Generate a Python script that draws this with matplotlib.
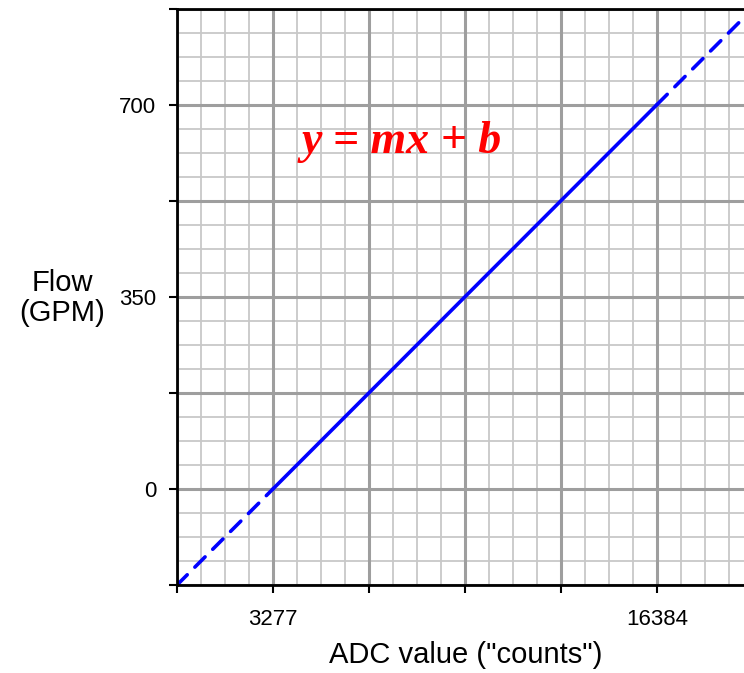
import matplotlib.pyplot as plt
import numpy as np

# ADC counts vs flow: line passes through (3277, 0) and (16384, 700)
x_solid = [3277, 16384]
y_solid = [0, 700]
x_tick_labels = {3277: '3277', 16384: '16384'}
y_tick_labels = {0: '0', 350: '350', 700: '700'}

x_min, x_max = 0, 19354
y_min, y_max = -175, 875

m = (y_solid[1] - y_solid[0]) / (x_solid[1] - x_solid[0])
b = y_solid[0] - m * x_solid[0]

fig = plt.figure(figsize=(7.44, 6.73), dpi=100)
ax = fig.add_axes([177 / 744, 88 / 673, 1 - 177 / 744, (585 - 8.5) / 673])
ax.set_xlim(x_min, x_max)
ax.set_ylim(y_min, y_max)

# grid: majors every 3276.75 counts / 175 GPM, 4 minor divisions
x_major = np.arange(0, x_max + 1, 3276.75)
y_major = np.arange(y_min, y_max + 1, 175)
x_minor = np.arange(0, x_max + 1, 3276.75 / 4)
y_minor = np.arange(y_min, y_max + 1, 175 / 4)

for xv in x_minor:
    ax.axvline(xv, color='#c8c8c8', lw=1.3, zorder=1)
for yv in y_minor:
    ax.axhline(yv, color='#c8c8c8', lw=1.3, zorder=1)
for xv in x_major:
    ax.axvline(xv, color='#9e9e9e', lw=2.2, zorder=2)
for yv in y_major:
    ax.axhline(yv, color='#9e9e9e', lw=2.2, zorder=2)

# solid part between the calibration points, dashed outside
ax.plot(x_solid, y_solid, color='blue', lw=2.6, zorder=5, solid_capstyle='round')
ax.plot([x_min, x_solid[0]], [m * x_min + b, y_solid[0]], color='blue', lw=2.6,
        ls=(0, (4, 3)), dash_capstyle='round', zorder=5)
ax.plot([x_solid[1], x_max], [y_solid[1], m * x_max + b], color='blue', lw=2.6,
        ls=(0, (4, 3)), dash_capstyle='round', zorder=5)

ax.set_xticks(x_major)
ax.set_xticklabels([x_tick_labels.get(int(round(v)), '') for v in x_major],
                   fontsize=16, fontfamily='Liberation Sans')
ax.set_yticks(y_major)
ax.set_yticklabels([y_tick_labels.get(int(round(v)), '') for v in y_major],
                   fontsize=16, fontfamily='Liberation Sans')
ax.tick_params(direction='out', length=6, width=1.5)
ax.tick_params(axis='y', pad=9)
ax.tick_params(axis='x', pad=11)

for side in ['left', 'bottom', 'top']:
    ax.spines[side].set_linewidth(2)
    ax.spines[side].set_zorder(6)
ax.spines['right'].set_visible(False)

ax.text(7680, 632, 'y = mx + b', color='red', fontsize=33,
        fontfamily='Liberation Serif', fontweight='bold', fontstyle='italic',
        ha='center', va='center', zorder=7)

fig.text(62 / 744, 1 - 298 / 673, 'Flow\n(GPM)', fontsize=21,
         fontfamily='Liberation Sans', ha='center', va='center', linespacing=1.1)
fig.text(466 / 744, 1 - 655 / 673, 'ADC value ("counts")', fontsize=21,
         fontfamily='Liberation Sans', ha='center', va='center')

fig.savefig('out.png', dpi=100)
